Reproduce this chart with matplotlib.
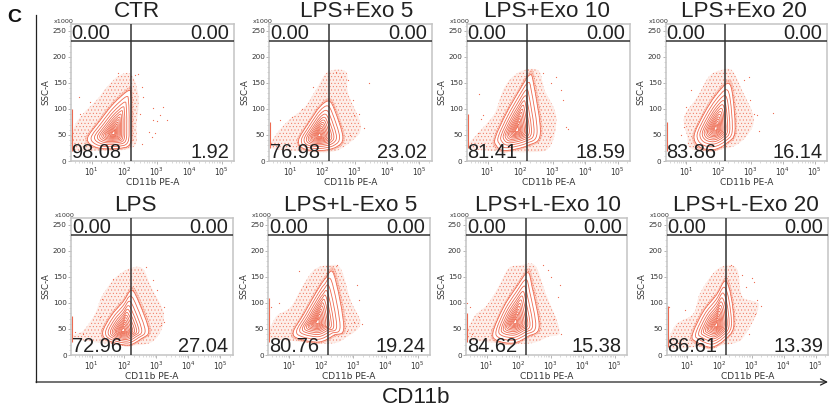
import numpy as np
import matplotlib
matplotlib.use('Agg')
import matplotlib.pyplot as plt
from matplotlib.path import Path
from matplotlib.patches import PathPatch

plt.rcParams['font.family'] = ['Liberation Sans', 'DejaVu Sans']
plt.rcParams['hatch.linewidth'] = 0.3

W, H = 838, 418
RED = '#ee6a50'

names = ['CTR', 'LPS+Exo 5', 'LPS+Exo 10', 'LPS+Exo 20',
         'LPS', 'LPS+L-Exo 5', 'LPS+L-Exo 10', 'LPS+L-Exo 20']
lower_left = ['98.08', '76.98', '81.41', '83.86', '72.96', '80.76', '84.62', '86.61']
lower_right = ['1.92', '23.02', '18.59', '16.14', '27.04', '19.24', '15.38', '13.39']
upper_left = ['0.00'] * 8
upper_right = ['0.00'] * 8

# (log10 CD11b, SSC /1000)
peaks = [(1.67, 53), (1.90, 49), (1.90, 59), (1.91, 62),
         (1.97, 47), (1.88, 63), (1.89, 63), (1.90, 57)]
strip_low = [20, 25, 25, 20, 25, 25, 25, 15]
strip_high = [100, 75, 90, 75, 75, 110, 80, 95]

ctr_contour = [(0.87, 43), (1.26, 78), (1.67, 110), (2.13, 135), (2.21, 123), (2.23, 78),
               (2.18, 33), (1.77, 24), (1.15, 26)]
exo5_contour = [(1.26, 40), (1.56, 72), (1.92, 104), (2.20, 115), (2.38, 97), (2.63, 46),
                (2.43, 27), (1.92, 20), (1.41, 24)]
exo10_contour = [(1.24, 46), (1.57, 91), (1.98, 136), (2.29, 165), (2.41, 149), (2.62, 53),
                 (2.24, 30), (1.52, 20), (1.26, 30)]
exo20_contour = [(1.24, 49), (1.55, 91), (1.91, 126), (2.29, 149), (2.44, 126), (2.51, 56),
                 (2.27, 35), (1.86, 22), (1.41, 27)]
lps_contour = [(1.34, 44), (1.61, 76), (1.97, 102), (2.24, 124), (2.48, 99), (2.77, 47),
               (2.53, 31), (2.12, 19), (1.51, 28)]
lexo5_contour = [(1.13, 44), (1.46, 79), (1.82, 118), (2.13, 147), (2.39, 155), (2.70, 54),
                 (2.39, 38), (1.93, 25), (1.31, 31)]
lexo10_contour = [(1.20, 44), (1.53, 92), (1.94, 131), (2.28, 158), (2.42, 131), (2.64, 54),
                  (2.30, 36), (1.84, 23), (1.32, 28)]
lexo20_contour = [(1.15, 38), (1.49, 83), (1.90, 115), (2.18, 142), (2.36, 112), (2.44, 54),
                  (2.15, 29), (1.74, 15), (1.29, 25)]

ctr_cloud = [(0.38, 24), (0.46, 65), (0.74, 91), (1.15, 117), (1.51, 145), (1.87, 165), (2.23, 165),
             (2.44, 123), (2.38, 72), (2.28, 27), (1.25, 20)]
exo5_cloud = [(0.39, 27), (0.59, 53), (0.95, 78), (1.46, 104), (1.82, 139), (2.17, 171), (2.73, 171),
              (2.79, 130), (3.19, 65), (2.79, 33), (2.22, 17), (1.0, 20)]
exo10_cloud = [(0.38, 27), (0.74, 56), (1.21, 91), (1.52, 142), (1.98, 171), (2.55, 174), (2.75, 136),
               (3.11, 85), (2.91, 27), (2.29, 17), (0.95, 20)]
exo20_cloud = [(1.03, 46), (0.93, 85), (1.34, 123), (1.70, 162), (2.06, 174), (2.42, 174), (2.73, 136),
               (3.09, 85), (2.94, 53), (2.42, 27), (1.49, 20), (1.08, 27)]
lps_cloud = [(0.39, 35), (0.74, 47), (1.10, 79), (1.31, 112), (1.71, 147), (2.17, 166), (2.58, 166),
             (2.84, 131), (3.24, 79), (3.04, 35), (2.48, 19), (1.05, 25)]
lexo5_cloud = [(0.38, 35), (0.59, 73), (1.05, 92), (1.41, 131), (1.77, 163), (2.19, 172), (2.60, 166),
               (2.91, 105), (3.22, 60), (2.80, 35), (2.29, 22), (0.95, 28)]
lexo10_cloud = [(0.39, 35), (0.60, 73), (1.01, 96), (1.37, 131), (1.68, 166), (2.04, 172), (2.51, 172),
                (2.81, 124), (3.28, 47), (2.92, 35), (2.30, 22), (0.96, 25)]
lexo20_cloud = [(0.42, 15), (0.62, 57), (1.18, 79), (1.39, 118), (1.85, 160), (2.26, 172), (2.56, 163),
                (2.71, 112), (3.22, 96), (2.82, 41), (2.41, 22), (1.18, 15)]

ctr_dots = [(1.82, 169), (2.33, 165), (2.44, 167), (2.54, 142), (2.59, 123), (2.49, 91), (2.90, 101),
            (3.21, 103), (3.10, 88), (3.31, 78), (2.88, 78), (3.00, 77), (2.77, 56), (2.95, 54),
            (2.85, 47), (2.54, 33), (0.62, 122), (0.95, 113), (0.64, 91), (1.56, 144)]
exo5_dots = [(3.45, 149), (3.30, 64), (3.14, 91), (2.94, 117), (0.69, 78), (1.05, 85), (1.36, 99),
             (1.71, 142), (2.43, 171), (2.58, 162), (2.79, 155), (2.99, 88), (2.84, 49)]
exo10_dots = [(3.11, 162), (3.42, 65), (3.27, 136), (0.74, 129), (0.85, 88), (2.91, 46), (3.32, 117),
              (2.70, 168), (2.96, 149), (3.47, 62), (0.79, 81), (0.69, 53)]
exo20_dots = [(3.71, 92), (3.27, 58), (2.94, 162), (1.13, 136), (2.99, 117), (0.98, 104), (3.09, 91),
              (2.78, 155), (0.93, 65), (0.82, 49), (3.20, 88)]
lps_dots = [(2.68, 169), (3.24, 92), (3.14, 57), (2.89, 144), (1.31, 108), (0.74, 41), (0.49, 44),
            (3.04, 124), (1.26, 73), (1.66, 145), (3.24, 63)]
lexo5_dots = [(1.31, 161), (2.80, 47), (3.27, 60), (3.11, 134), (0.69, 99), (0.43, 92), (3.01, 63),
              (2.49, 172), (3.16, 105), (1.52, 131)]
lexo10_dots = [(2.76, 172), (3.28, 134), (2.92, 163), (3.23, 112), (3.12, 70), (3.33, 41), (0.39, 99),
               (0.49, 92), (0.75, 73), (3.02, 150), (0.55, 41)]
lexo20_dots = [(3.02, 147), (3.07, 140), (3.28, 94), (2.92, 41), (3.12, 79), (0.93, 86), (0.42, 92),
               (2.36, 172), (2.71, 153), (2.82, 131), (3.17, 105)]

contours = [ctr_contour, exo5_contour, exo10_contour, exo20_contour,
            lps_contour, lexo5_contour, lexo10_contour, lexo20_contour]
clouds = [ctr_cloud, exo5_cloud, exo10_cloud, exo20_cloud,
          lps_cloud, lexo5_cloud, lexo10_cloud, lexo20_cloud]
dots = [ctr_dots, exo5_dots, exo10_dots, exo20_dots,
        lps_dots, lexo5_dots, lexo10_dots, lexo20_dots]

x_major = [1, 2, 3, 4, 5]
y_major = [0, 50, 100, 150, 200, 250]
x_labels = ['$\\mathregular{10^{%d}}$' % d for d in x_major]

# panel boxes in pixels: left, right, top, bottom
boxes = [(70.7, 234, 24, 161), (269.3, 431.7, 24, 161), (466.7, 630, 24, 161), (665.7, 827, 24, 161),
         (71, 232.7, 218, 355), (268.3, 430, 218, 355), (466, 626.7, 218, 355), (666.7, 828, 218, 355)]
title_x = [137, 357, 547, 744, 135, 351, 548, 746]
ring_scale = [1, 0.86, 0.73, 0.62, 0.53, 0.45, 0.38, 0.32, 0.26, 0.21, 0.16, 0.11, 0.07]


def smooth_path(pts):
    # closed catmull-rom curve, goes through every outline point
    pts = np.array(pts, dtype=float)
    n = len(pts)
    verts = [pts[0]]
    codes = [Path.MOVETO]
    for j in range(n):
        p0, p1, p2, p3 = pts[j - 1], pts[j], pts[(j + 1) % n], pts[(j + 2) % n]
        verts += [p1 + (p2 - p0) / 6, p2 - (p3 - p1) / 6, p2]
        codes += [Path.CURVE4] * 3
    return Path(verts, codes)


fig = plt.figure(figsize=(W / 100, H / 100), dpi=100)

for i in range(8):
    l, r, t, b = boxes[i]
    ax = fig.add_axes([l / W, 1 - b / H, (r - l) / W, (b - t) / H])
    ax.set_xlim(0.354, 5.38)
    ax.set_ylim(0, 263)

    outer = np.array(contours[i], dtype=float)
    peak = np.array(peaks[i], dtype=float)

    ax.add_patch(PathPatch(smooth_path(clouds[i]), facecolor='#fdeee9', edgecolor=RED,
                           hatch='.....', linewidth=0, zorder=1))
    # dense band of events just outside the outer contour
    ax.add_patch(PathPatch(smooth_path(peak + (outer - peak) * 1.09), facecolor='#fbcabd',
                           edgecolor=RED, hatch='.......', linewidth=0, zorder=1.5))
    ax.vlines(0.38, strip_low[i], strip_high[i], color=RED, linewidth=0.8, zorder=2)
    xy = np.array(dots[i])
    ax.scatter(xy[:, 0], xy[:, 1], s=0.8, color=RED, linewidths=0, zorder=2)

    ax.add_patch(PathPatch(smooth_path(outer), facecolor='white', edgecolor='none', zorder=3))
    for k in ring_scale:
        ax.add_patch(PathPatch(smooth_path(peak + (outer - peak) * k), facecolor='none',
                               edgecolor=RED, linewidth=0.6, zorder=4))

    ax.axhline(230, color='#333333', linewidth=1.1, zorder=5)
    ax.axvline(2.215, color='#333333', linewidth=1.1, zorder=5)

    for s in ax.spines.values():
        s.set_color('#c4c4c4')
        s.set_linewidth(1.1)

    ax.set_xticks(x_major)
    ax.set_xticklabels(x_labels, fontsize=5.5, family='DejaVu Sans', color='#333333')
    ax.set_yticks(y_major)
    ax.set_yticklabels([str(v) for v in y_major], fontsize=5.2, family='DejaVu Sans', color='#333333')
    ax.set_xticks([d + np.log10(m) for d in range(0, 6) for m in range(2, 10)
                   if 0.354 < d + np.log10(m) < 5.38], minor=True)
    ax.set_yticks(np.arange(0, 261, 10), minor=True)
    ax.tick_params(which='major', length=2.2, width=0.5, color='#999999', pad=0.8)
    ax.tick_params(which='minor', length=1.2, width=0.4, color='#bbbbbb')
    ax.set_xlabel('CD11b PE-A', fontsize=6.5, family='DejaVu Sans', color='#333333', labelpad=0)
    ax.set_ylabel('SSC-A', fontsize=6.2, family='DejaVu Sans', color='#333333', labelpad=1.5)
    ax.text(0.02, 1.0, 'x1000', transform=ax.transAxes, fontsize=4.6, family='DejaVu Sans',
            color='#333333', ha='right', va='bottom')

    ax.text(0.005, 0.934, upper_left[i], transform=ax.transAxes, fontsize=14.4, color='#222222',
            ha='left', va='center', zorder=6)
    ax.text(0.97, 0.934, upper_right[i], transform=ax.transAxes, fontsize=14.4, color='#222222',
            ha='right', va='center', zorder=6)
    ax.text(0.005, 0.02, lower_left[i], transform=ax.transAxes, fontsize=14.4, color='#222222',
            ha='left', va='baseline', zorder=6)
    ax.text(0.97, 0.02, lower_right[i], transform=ax.transAxes, fontsize=14.4, color='#222222',
            ha='right', va='baseline', zorder=6)

    fig.text(title_x[i] / W, 1 - (t - 7) / H, names[i], fontsize=16.2, color='#222222',
             ha='center', va='baseline')

fig.text(14 / W, 1 - 22 / H, 'C', fontsize=14, fontweight='bold', color='#111111',
         ha='center', va='baseline')
fig.text(416 / W, 1 - 403 / H, 'CD11b', fontsize=16.2, color='#222222', ha='center', va='baseline')

# big axis lines around the whole grid
over = fig.add_axes([0, 0, 1, 1], facecolor='none')
over.set_xlim(0, W)
over.set_ylim(H, 0)
over.axis('off')
over.plot([36, 36], [15, 382], color='#222222', linewidth=0.9)
over.annotate('', xy=(828, 382), xytext=(36, 382),
              arrowprops=dict(arrowstyle='->', color='#222222', linewidth=0.9,
                              shrinkA=0, shrinkB=0, mutation_scale=11))

fig.savefig('out.png', dpi=100)
